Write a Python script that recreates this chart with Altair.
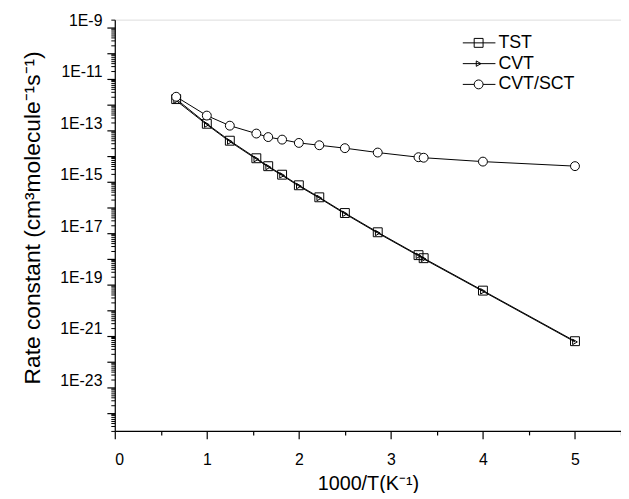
import altair as alt
import pandas as pd

# inverse temperature, 1000/T (K^-1)
x_vals = [0.667, 1.0, 1.25, 1.538, 1.667, 1.818, 2.0, 2.222, 2.5, 2.857, 3.30, 3.356, 4.0, 5.0]
# rate constants (cm3 molecule-1 s-1)
k_tst = [1.62e-12, 1.78e-13, 3.9e-14, 8.1e-15, 3.98e-15, 1.86e-15, 7.2e-16, 2.45e-16,
         6.0e-17, 1.07e-17, 1.38e-18, 1.05e-18, 5.75e-20, 6.2e-22]
k_cvt = [1.42e-12, 1.65e-13, 3.6e-14, 7.5e-15, 3.7e-15, 1.75e-15, 6.7e-16, 2.3e-16,
         5.6e-17, 1.0e-17, 1.3e-18, 9.8e-19, 5.4e-20, 5.8e-22]
k_sct = [2.0e-12, 3.7e-13, 1.5e-13, 7.4e-14, 5.4e-14, 4.3e-14, 3.2e-14, 2.6e-14,
         2.0e-14, 1.35e-14, 8.9e-15, 8.5e-15, 6.0e-15, 4.0e-15]
series_names = ["TST", "CVT", "CVT/SCT"]

x_major = [0, 1, 2, 3, 4, 5]
x_minor = [0.5, 1.5, 2.5, 3.5, 4.5, 5.5]
y_major = [10.0 ** e for e in range(-24, -8)]
y_minor = [m * 10.0 ** e for e in range(-25, -8) for m in range(2, 10)
           if 2e-25 <= m * 10.0 ** e <= 2e-9]

FONT = "Liberation Sans"

df = pd.DataFrame({
    "x": x_vals * 3,
    "k": k_tst + k_cvt + k_sct,
    "series": [series_names[0]] * len(x_vals) + [series_names[1]] * len(x_vals)
              + [series_names[2]] * len(x_vals),
})

xscale = alt.Scale(domain=[0, 5.5], nice=False, zero=False)
yscale = alt.Scale(type="log", domain=[2e-25, 2e-9], nice=False)

common_axis = dict(domainColor="black", domainWidth=1.2, tickColor="black", tickWidth=1.2,
                   labelFont=FONT, labelColor="black", labelFontSize=16,
                   titleFont=FONT, titleColor="black", titleFontWeight="normal",
                   grid=False)

x_major_axis = alt.Axis(values=x_major, tickSize=8, labelPadding=13, title="1000/T(K⁻¹)",
                        titlePadding=6, titleFontSize=20, orient="bottom", format="d",
                        **common_axis)
y_major_axis = alt.Axis(values=y_major, tickSize=8, labelPadding=5, orient="left",
                        labelOffset=-7, titleFontSize=23, titleY=200,
                        title="Rate constant (cm³molecule⁻¹s⁻¹)", titlePadding=15,
                        labelExpr="(round(log(datum.value)/LN10) % 2 != 0) ? '1E' + round(log(datum.value)/LN10) : ''",
                        **common_axis)
x_minor_axis = alt.Axis(values=x_minor, tickSize=4, labels=False, title=None, domain=False,
                        orient="bottom", tickColor="black", tickWidth=1.2, grid=False)
y_minor_axis = alt.Axis(values=y_minor, tickSize=4, labels=False, title=None, domain=False,
                        orient="left", tickColor="black", tickWidth=1.0, grid=False)

base = alt.Chart(df)


def line_layer(name, xaxis=None, yaxis=None):
    return base.transform_filter(alt.datum.series == name).mark_line(
        color="black", strokeWidth=1).encode(
        x=alt.X("x:Q", scale=xscale, axis=xaxis),
        y=alt.Y("k:Q", scale=yscale, axis=yaxis),
    )


def point_layer(name, shape, size, fill):
    return base.transform_filter(alt.datum.series == name).mark_point(
        shape=shape, size=size, filled=False, fill=fill, stroke="black",
        strokeWidth=1, opacity=1).encode(
        x=alt.X("x:Q", scale=xscale, axis=None),
        y=alt.Y("k:Q", scale=yscale, axis=None),
    )


layers = [
    line_layer("TST", x_major_axis, y_major_axis),
    line_layer("CVT", x_minor_axis, y_minor_axis),
    line_layer("CVT/SCT"),
    point_layer("TST", "square", 81, "transparent"),
    point_layer("CVT", "triangle-right", 30, "transparent"),
    point_layer("CVT/SCT", "circle", 81, "white"),
]

# legend (drawn manually, Origin style)
leg_rows = [23.5, 44.5, 65.5]
leg_shapes = [("square", 81, "transparent"), ("triangle-right", 30, "transparent"),
              ("circle", 81, "white")]
one = pd.DataFrame({"a": [0]})
for name, yy, (shp, sz, fl) in zip(series_names, leg_rows, leg_shapes):
    layers.append(alt.Chart(one).mark_rule(color="black", strokeWidth=1).encode(
        x=alt.value(352), x2=alt.value(385), y=alt.value(yy)))
    layers.append(alt.Chart(one).mark_point(shape=shp, size=sz, filled=False, fill=fl,
                                            stroke="black", strokeWidth=1, opacity=1).encode(
        x=alt.value(368), y=alt.value(yy)))
    layers.append(alt.Chart(one).mark_text(text=name, font=FONT, fontSize=18, align="left",
                                           baseline="middle", color="black").encode(
        x=alt.value(388), y=alt.value(yy)))

chart = alt.layer(*layers).resolve_axis(x="independent", y="independent").properties(
    width=512, height=416,
    autosize=alt.AutoSizeParams(type="none"),
    padding={"left": 108, "top": 9, "right": 0, "bottom": 60},
).configure_view(stroke=None).configure(background="white")

chart.save("out.html", embed_options={"renderer": "svg", "actions": False})
